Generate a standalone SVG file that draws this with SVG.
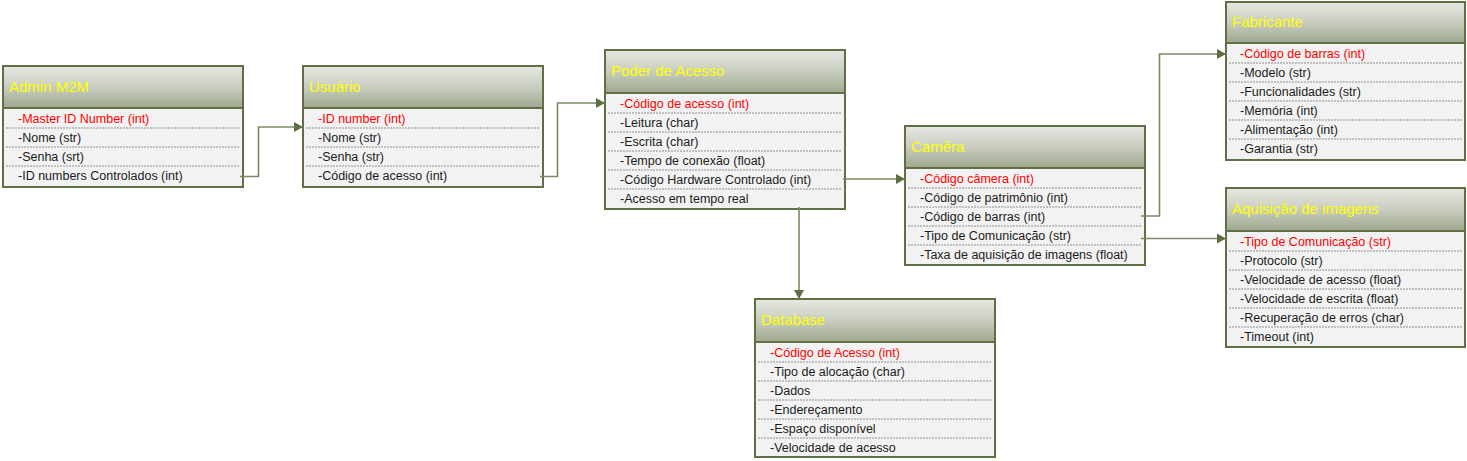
<svg xmlns="http://www.w3.org/2000/svg" width="1467" height="461" viewBox="0 0 1467 461">
<defs>
<linearGradient id="hdr" x1="0" y1="0" x2="0" y2="1">
<stop offset="0" stop-color="#e6e8e2"/>
<stop offset="0.5" stop-color="#c9cdc0"/>
<stop offset="1" stop-color="#9ea78e"/>
</linearGradient>
<marker id="arr" markerUnits="userSpaceOnUse" markerWidth="9" markerHeight="10" refX="9" refY="5" orient="auto">
<path d="M0,0 L9,5 L0,10 z" fill="#5d6e42"/>
</marker>
<style>
.box{fill:#f2f2f2;stroke:#5f7044;stroke-width:2}
.hd{fill:url(#hdr);stroke:#5f7044;stroke-width:2}
.ttl{font-family:"Liberation Sans",Arial,sans-serif;font-size:15px;fill:#ffff00}
.t{font-family:"Liberation Sans",Arial,sans-serif;font-size:12.5px;fill:#1a1a1a}
.k{fill:#ff0000}
.dl{stroke:#8c8c8c;stroke-width:1.2;stroke-dasharray:2 1;fill:none}
.cn{fill:none;stroke:#7b8a63;stroke-width:1.6}
</style>
</defs>
<rect width="1467" height="461" fill="#ffffff"/>

<g id="admin">
<rect class="box" x="3" y="66" width="240" height="121"/>
<rect class="hd" x="3" y="66" width="240" height="42"/>
<text class="ttl" x="9" y="92">Admin M2M</text>
<path class="dl" d="M6,128H240M6,147H240M6,166H240"/>
<text class="t k" x="18" y="123">-Master ID Number (int)</text>
<text class="t" x="18" y="142">-Nome (str)</text>
<text class="t" x="18" y="161">-Senha (srt)</text>
<text class="t" x="18" y="180">-ID numbers Controlados (int)</text>
</g>

<g id="usuario">
<rect class="box" x="303" y="66" width="240" height="121"/>
<rect class="hd" x="303" y="66" width="240" height="42"/>
<text class="ttl" x="309" y="92">Usuário</text>
<path class="dl" d="M306,128H540M306,147H540M306,166H540"/>
<text class="t k" x="318" y="123">-ID number (int)</text>
<text class="t" x="318" y="142">-Nome (str)</text>
<text class="t" x="318" y="161">-Senha (str)</text>
<text class="t" x="318" y="180">-Código de acesso (int)</text>
</g>

<g id="poder">
<rect class="box" x="605" y="50" width="240" height="159"/>
<rect class="hd" x="605" y="50" width="240" height="43"/>
<text class="ttl" x="611" y="76">Poder de Acesso</text>
<path class="dl" d="M608,113H842M608,132H842M608,151H842M608,170H842M608,189H842"/>
<text class="t k" x="620" y="108">-Código de acesso (int)</text>
<text class="t" x="620" y="127">-Leitura (char)</text>
<text class="t" x="620" y="146">-Escrita (char)</text>
<text class="t" x="620" y="165">-Tempo de conexão (float)</text>
<text class="t" x="620" y="184">-Código Hardware Controlado (int)</text>
<text class="t" x="620" y="203">-Acesso em tempo real</text>
</g>

<g id="camera">
<rect class="box" x="905" y="126" width="240" height="139"/>
<rect class="hd" x="905" y="126" width="240" height="42"/>
<text class="ttl" x="911" y="152">Camêra</text>
<path class="dl" d="M908,188H1142M908,207H1142M908,226H1142M908,245H1142"/>
<text class="t k" x="920" y="183">-Código câmera (int)</text>
<text class="t" x="920" y="202">-Código de patrimônio (int)</text>
<text class="t" x="920" y="221">-Código de barras (int)</text>
<text class="t" x="920" y="240">-Tipo de Comunicação (str)</text>
<text class="t" x="920" y="259">-Taxa de aquisição de imagens (float)</text>
</g>

<g id="fabricante">
<rect class="box" x="1226" y="2" width="239" height="158"/>
<rect class="hd" x="1226" y="2" width="239" height="41"/>
<text class="ttl" x="1232" y="27">Fabricante</text>
<path class="dl" d="M1229,63H1462M1229,82H1462M1229,101H1462M1229,120H1462M1229,139H1462"/>
<text class="t k" x="1240" y="58">-Código de barras (int)</text>
<text class="t" x="1240" y="77">-Modelo (str)</text>
<text class="t" x="1240" y="96">-Funcionalidades (str)</text>
<text class="t" x="1240" y="115">-Memória (int)</text>
<text class="t" x="1240" y="134">-Alimentação (int)</text>
<text class="t" x="1240" y="153">-Garantia (str)</text>
</g>

<g id="aquisicao">
<rect class="box" x="1226" y="188" width="239" height="159"/>
<rect class="hd" x="1226" y="188" width="239" height="43"/>
<text class="ttl" x="1232" y="214">Aquisição de imagens</text>
<path class="dl" d="M1229,251H1462M1229,270H1462M1229,289H1462M1229,308H1462M1229,327H1462"/>
<text class="t k" x="1240" y="246">-Tipo de Comunicação (str)</text>
<text class="t" x="1240" y="265">-Protocolo (str)</text>
<text class="t" x="1240" y="284">-Velocidade de acesso (float)</text>
<text class="t" x="1240" y="303">-Velocidade de escrita (float)</text>
<text class="t" x="1240" y="322">-Recuperação de erros (char)</text>
<text class="t" x="1240" y="341">-Timeout (int)</text>
</g>

<g id="database">
<rect class="box" x="755" y="299" width="240" height="158"/>
<rect class="hd" x="755" y="299" width="240" height="43"/>
<text class="ttl" x="761" y="325">Database</text>
<path class="dl" d="M758,362H992M758,381H992M758,400H992M758,419H992M758,438H992"/>
<text class="t k" x="770" y="357">-Código de Acesso (int)</text>
<text class="t" x="770" y="376">-Tipo de alocação (char)</text>
<text class="t" x="770" y="395">-Dados</text>
<text class="t" x="770" y="414">-Endereçamento</text>
<text class="t" x="770" y="433">-Espaço disponível</text>
<text class="t" x="770" y="452">-Velocidade de acesso</text>
</g>

<g id="connectors">
<path class="cn" marker-end="url(#arr)" d="M240,176.5H258.5V127H303"/>
<path class="cn" marker-end="url(#arr)" d="M540,176.5H557.5V103H605"/>
<path class="cn" marker-end="url(#arr)" d="M843,179H905"/>
<path class="cn" marker-end="url(#arr)" d="M799,207V299"/>
<path class="cn" marker-end="url(#arr)" d="M1141,216H1159.5V54H1226"/>
<path class="cn" marker-end="url(#arr)" d="M1141,238.5H1226"/>
</g>
</svg>
